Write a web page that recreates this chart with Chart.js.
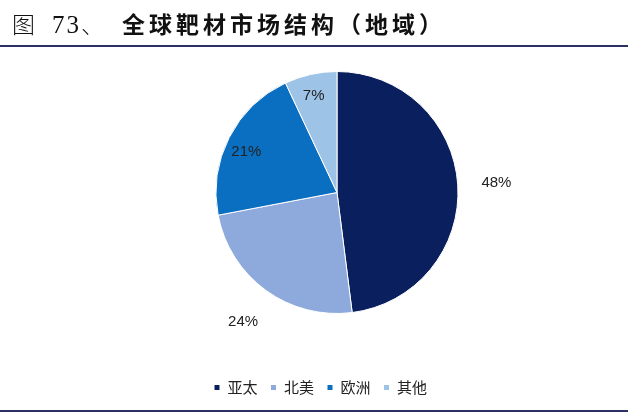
<!DOCTYPE html>
<html>
<head>
<meta charset="utf-8">
<script src="https://cdn.jsdelivr.net/npm/chart.js@4.4.1/dist/chart.umd.min.js"></script>
<style>
  html, body { margin: 0; padding: 0; background: #fff; }
  #wrap { position: relative; width: 640px; height: 413px; overflow: hidden; }
  #title { position: absolute; left: 12px; top: 8px; white-space: nowrap; font-size: 23px; line-height: 30px; color: #111; }
  #title .num { font-family: "Noto Sans CJK SC"; font-weight: 300; }
  #title .num .d { font-family: "Liberation Serif"; font-size: 25px; letter-spacing: 2px; margin-left: 17px; }
  #title .main { font-family: "Noto Sans CJK SC"; font-weight: 700; letter-spacing: 4px; margin-left: 18px; }
  #topline { position: absolute; left: 0; top: 45px; width: 628px; height: 2px; background: #2b3164; }
  #botline { position: absolute; left: 0; top: 410px; width: 628px; height: 2px; background: #2b3164; }
  #c { position: absolute; left: 0; top: 0; }
</style>
</head>
<body>
<div id="wrap">
  <canvas id="c" width="640" height="413"></canvas>
  <div id="title"><span class="num">图<span class="d">73</span>、</span><span class="main">全球靶材市场结构（地域）</span></div>
  <div id="topline"></div>
  <div id="botline"></div>
</div>
<script>
const categories = ['亚太', '北美', '欧洲', '其他'];
const shares = [48, 24, 21, 7];
const sliceColors = ['#0a1f5e', '#8eaadc', '#0a6fc0', '#9dc3e6'];

const labelPlugin = {
  id: 'sliceLabels',
  afterDatasetsDraw(chart) {
    const ctx = chart.ctx;
    const meta = chart.getDatasetMeta(0);
    ctx.save();
    ctx.font = '15px "Liberation Sans", Arial, sans-serif';
    ctx.fillStyle = '#222';
    ctx.textAlign = 'center';
    ctx.textBaseline = 'middle';
    meta.data.forEach((arc, i) => {
      const p = arc.getProps(['x', 'y', 'startAngle', 'endAngle', 'outerRadius'], true);
      // outside labels for large slices, inside for small ones
      const outside = shares[i] >= 24;
      const mid = outside ? (p.startAngle + p.endAngle) / 2 : p.startAngle + (p.endAngle - p.startAngle) * 0.46;
      const f = outside ? 1.32 : 0.82;
      const x = p.x + Math.cos(mid) * p.outerRadius * f;
      const y = p.y + Math.sin(mid) * p.outerRadius * f;
      ctx.fillText(shares[i] + '%', x, y);
    });
    ctx.restore();
  }
};

new Chart(document.getElementById('c'), {
  type: 'pie',
  data: {
    labels: categories,
    datasets: [{
      data: shares,
      backgroundColor: sliceColors,
      borderColor: '#ffffff',
      borderWidth: 1,
      radius: 121
    }]
  },
  options: {
    responsive: false,
    animation: false,
    devicePixelRatio: 1,
    layout: { padding: { left: 201, right: 167, top: 18, bottom: 8 } },
    plugins: {
      tooltip: { enabled: false },
      legend: {
        position: 'bottom',
        align: 'start',
        labels: {
          boxWidth: 6,
          boxHeight: 6,
          padding: 13,
          color: '#222',
          font: { family: '"Noto Sans CJK SC", sans-serif', size: 15 }
        }
      }
    }
  },
  plugins: [labelPlugin]
});
</script>
</body>
</html>
